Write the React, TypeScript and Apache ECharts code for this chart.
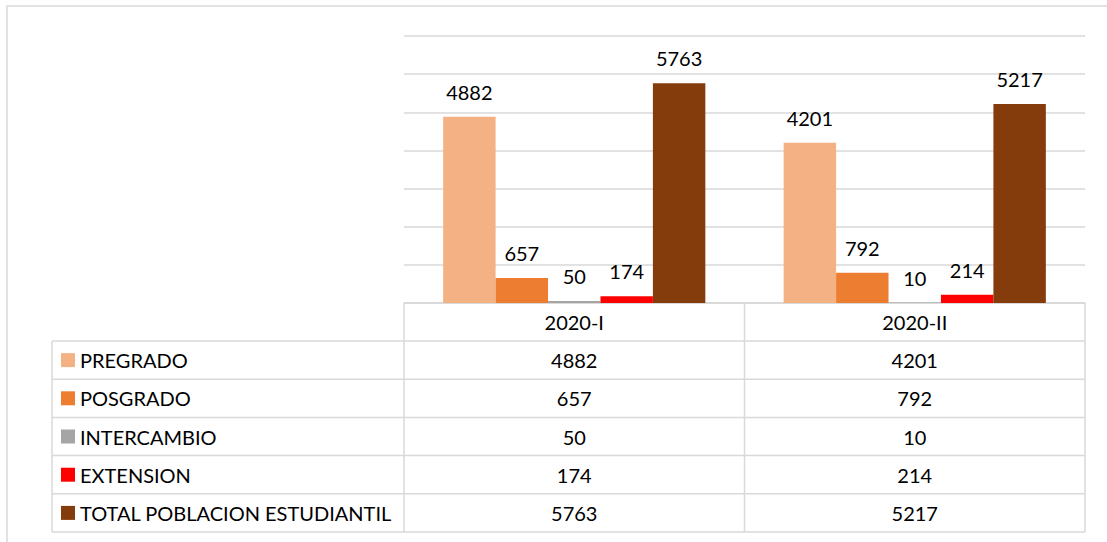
import React, { useEffect, useRef } from "react";
import * as echarts from "echarts";

const categories = ["2020-I", "2020-II"];
const seriesNames = ["PREGRADO", "POSGRADO", "INTERCAMBIO", "EXTENSION", "TOTAL POBLACION ESTUDIANTIL"];
const pregrado = [4882, 4201];
const posgrado = [657, 792];
const intercambio = [50, 10];
const extension = [174, 214];
const total = [5763, 5217];
const colors = ["#F4B183", "#ED7D31", "#A5A5A5", "#FF0000", "#843C0C"];

const FONT = "Lato, 'Open Sans', sans-serif";
const FS = 20;

export default function App() {
  const ref = useRef<HTMLDivElement>(null);
  useEffect(() => {
    if (!ref.current) return;
    const chart = echarts.init(ref.current, undefined, { renderer: "svg" });
    const allData = [pregrado, posgrado, intercambio, extension, total];

    const gridLeft = 404;
    const gridRight = 1085;
    const labelLeft = 52;
    const tableTop = 303;
    const headerH = 38;
    const rowH = 38.2;
    const lineColor = "#D9D9D9";
    const colW = (gridRight - gridLeft) / categories.length;

    const graphics: any[] = [];
    graphics.push({
      type: "rect",
      shape: { x: 7, y: 6, width: 1200, height: 600 },
      style: { fill: "none", stroke: lineColor, lineWidth: 1.5 },
      silent: true,
    });
    const tableBottom = tableTop + headerH + rowH * seriesNames.length;
    graphics.push({ type: "line", shape: { x1: gridLeft, y1: tableTop, x2: gridRight, y2: tableTop }, style: { stroke: lineColor, lineWidth: 1.5 } });
    for (let i = 0; i <= seriesNames.length; i++) {
      const y = tableTop + headerH + rowH * i;
      graphics.push({ type: "line", shape: { x1: labelLeft, y1: y, x2: gridRight, y2: y }, style: { stroke: lineColor, lineWidth: 1.5 } });
    }
    graphics.push({ type: "line", shape: { x1: labelLeft, y1: tableTop + headerH, x2: labelLeft, y2: tableBottom }, style: { stroke: lineColor, lineWidth: 1.5 } });
    for (let c = 0; c <= categories.length; c++) {
      const x = gridLeft + colW * c;
      graphics.push({ type: "line", shape: { x1: x, y1: tableTop, x2: x, y2: tableBottom }, style: { stroke: lineColor, lineWidth: 1.5 } });
    }
    categories.forEach((cat, c) => {
      graphics.push({
        type: "text",
        x: gridLeft + colW * (c + 0.5),
        y: tableTop + headerH / 2,
        style: { text: cat, fill: "#000", font: `${FS}px ${FONT}`, align: "center", verticalAlign: "middle" },
      });
    });
    seriesNames.forEach((name, i) => {
      const cy = tableTop + headerH + rowH * (i + 0.5);
      graphics.push({ type: "rect", shape: { x: 61, y: cy - 7, width: 14, height: 14 }, style: { fill: colors[i] } });
      graphics.push({
        type: "text",
        x: 80,
        y: cy,
        style: { text: name, fill: "#000", font: `${FS}px ${FONT}`, align: "left", verticalAlign: "middle" },
      });
      categories.forEach((_, c) => {
        graphics.push({
          type: "text",
          x: gridLeft + colW * (c + 0.5),
          y: cy,
          style: { text: String(allData[i][c]), fill: "#000", font: `${FS}px ${FONT}`, align: "center", verticalAlign: "middle" },
        });
      });
    });

    chart.setOption({
      animation: false,
      backgroundColor: "#fff",
      grid: { left: gridLeft, right: 1107 - gridRight, top: 36, bottom: 542 - tableTop, containLabel: false },
      xAxis: {
        type: "category",
        data: categories,
        axisLine: { show: true, lineStyle: { color: lineColor, width: 1.5 } },
        axisTick: { show: false },
        axisLabel: { show: false },
      },
      yAxis: {
        type: "value",
        min: 0,
        max: 7000,
        interval: 1000,
        axisLabel: { show: false },
        axisLine: { show: false },
        axisTick: { show: false },
        splitLine: { lineStyle: { color: lineColor, width: 1.5 } },
      },
      series: seriesNames.map((name, i) => ({
        name,
        type: "bar",
        data: allData[i],
        barGap: "0%",
        barCategoryGap: "23%",
        itemStyle: { color: colors[i] },
        label: {
          show: true,
          position: "top",
          distance: 15,
          color: "#000",
          fontSize: FS,
          fontFamily: FONT,
        },
      })),
      graphic: graphics,
    });
    return () => chart.dispose();
  }, []);
  return <div ref={ref} style={{ position: "fixed", left: 0, top: 0, width: 1107, height: 542 }} />;
}
